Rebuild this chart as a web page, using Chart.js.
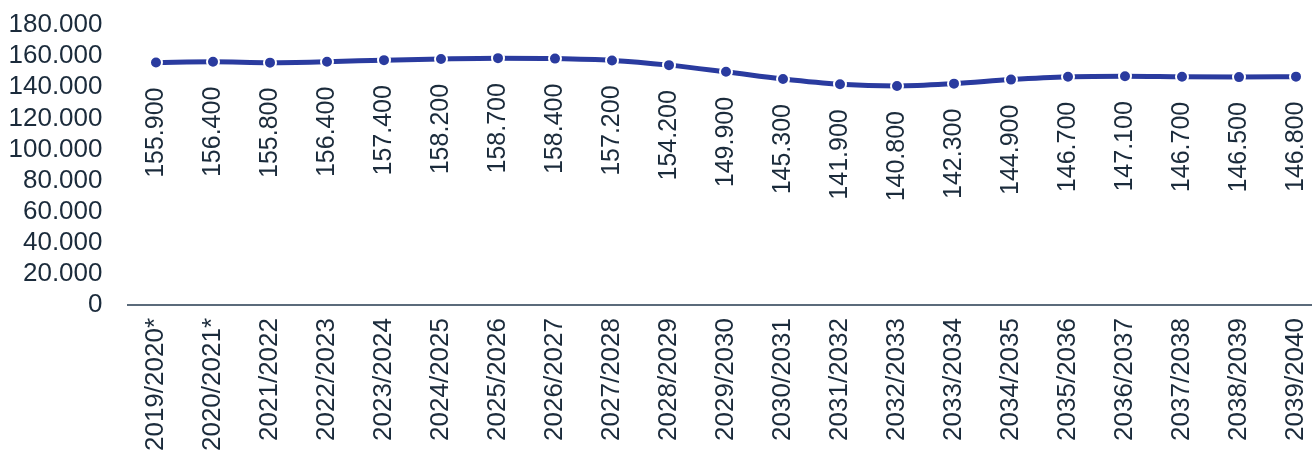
<!DOCTYPE html>
<html><head><meta charset="utf-8">
<script src="https://cdn.jsdelivr.net/npm/chart.js@4/dist/chart.umd.min.js"></script>
<style>
html,body{margin:0;padding:0;background:#fff;overflow:hidden;}
canvas{display:block;}
</style></head><body>
<canvas id="c" width="1312" height="457"></canvas>
<script>
const categories = ["2019/2020*","2020/2021*","2021/2022","2022/2023","2023/2024","2024/2025","2025/2026","2026/2027","2027/2028","2028/2029","2029/2030","2030/2031","2031/2032","2032/2033","2033/2034","2034/2035","2035/2036","2036/2037","2037/2038","2038/2039","2039/2040"];
const values = [155900,156400,155800,156400,157400,158200,158700,158400,157200,154200,149900,145300,141900,140800,142300,144900,146700,147100,146700,146500,146800];
const yTicks = [0,20000,40000,60000,80000,100000,120000,140000,160000,180000];

const FONT = "'Liberation Sans', Arial, sans-serif";
const TEXT = "#1b2b3b";
const LINE = "#2a3b9f";
const CAT_W = 57;
function fmt(v){ return String(Math.round(v)).replace(/\B(?=(\d{3})+(?!\d))/g, "."); }

// extend category band so the last half-band runs off the right edge, as in the original
const extendPlugin = {
  id:'extendX',
  afterLayout(chart){
    const x = chart.scales.x;
    const w = categories.length * CAT_W;
    x.right = x.left + w; x.width = w; x.configure();
    chart.chartArea.right = x.right; chart.chartArea.width = w;
  }
};

const labelPlugin = {
  id:'vlabels',
  afterDatasetsDraw(chart){
    const ctx = chart.ctx;
    const meta = chart.getDatasetMeta(0);
    ctx.save();
    ctx.font = "25px " + FONT;
    ctx.fillStyle = TEXT;
    ctx.textAlign = 'right';
    ctx.textBaseline = 'middle';
    meta.data.forEach((pt,i)=>{
      ctx.save();
      ctx.translate(pt.x, pt.y + 25);
      ctx.rotate(-Math.PI/2);
      ctx.fillText(fmt(values[i]), 0, 0);
      ctx.restore();
    });
    ctx.restore();
  }
};

new Chart(document.getElementById('c'), {
  type:'line',
  data:{ labels:categories, datasets:[{
    data:values, borderColor:LINE, backgroundColor:LINE, borderWidth:5,
    tension:0.4, cubicInterpolationMode:'monotone',
    pointRadius:6, pointBorderColor:'#fff', pointBorderWidth:2, pointBackgroundColor:LINE
  }]},
  options:{
    responsive:false, animation:false,
    layout:{padding:{top:25,left:0,right:0,bottom:0}},
    plugins:{legend:{display:false}, tooltip:{enabled:false}},
    scales:{
      x:{
        offset:true,
        grid:{display:false, drawTicks:false},
        border:{display:true,color:'#5b6b7b',width:2},
        ticks:{color:TEXT,font:{family:FONT,size:26},minRotation:90,maxRotation:90,padding:13,autoSkip:false},
        afterFit(s){ s.height = 152; s.paddingLeft = 0; s.paddingRight = 0; }
      },
      y:{
        min:0,max:180000,
        afterBuildTicks(s){ s.ticks = yTicks.map(v=>({value:v})); },
        grid:{display:false, drawTicks:false},
        border:{display:false},
        ticks:{color:TEXT,font:{family:FONT,size:26},padding:25,autoSkip:false,callback:(v)=>fmt(v)},
        afterFit(s){ s.width = 127.5; s.paddingTop = 0; s.paddingBottom = 0; }
      }
    }
  },
  plugins:[extendPlugin, labelPlugin]
});
</script></body></html>
